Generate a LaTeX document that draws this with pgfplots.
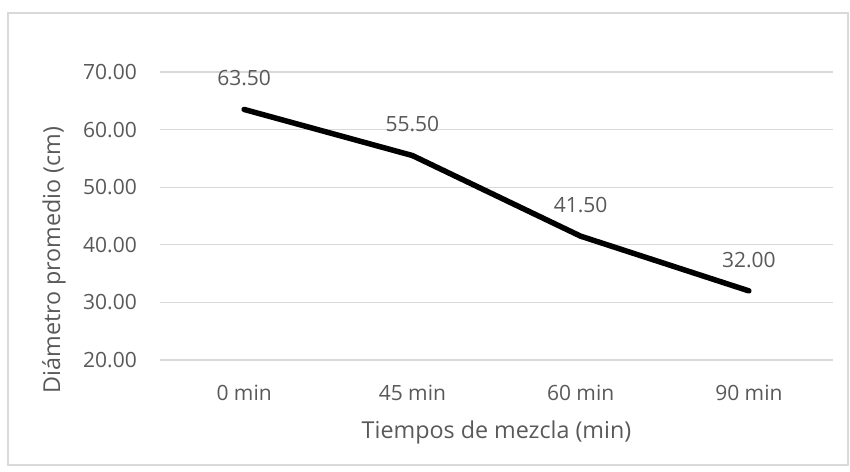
\documentclass[border=0pt]{standalone}
\usepackage{pgfplots}
\pgfplotsset{compat=1.18}
\usepackage{fontspec}
\setmainfont{Open Sans}

\definecolor{txtgray}{HTML}{595959}
\definecolor{gridgray}{HTML}{D9D9D9}

\begin{document}
\begin{tikzpicture}[x=1pt,y=1pt]
\useasboundingbox (-160,-111) rectangle (690,360);
% chart frame
\draw[gridgray, line width=1.3pt] (-152,-105) rectangle (688,347);
\begin{axis}[
  at={(0,0)}, anchor=south west,
  scale only axis,
  width=673pt, height=288pt,
  xmin=-0.5, xmax=3.5,
  ymin=20, ymax=70,
  ytick={20,30,...,70},
  xtick={0,1,2,3},
  xticklabels={0 min,45 min,60 min,90 min},
  axis line style={draw=none},
  major tick length=0pt,
  ymajorgrids,
  grid style={gridgray, line width=1.3pt},
  font=\fontsize{21}{25}\selectfont,
  every tick label/.append style={txtgray},
  /pgf/number format/assume math mode=true,
  yticklabel style={/pgf/number format/.cd, fixed, fixed zerofill, precision=2, /tikz/.cd, anchor=east, inner sep=0pt, xshift=-23pt},
  xticklabel style={anchor=center, inner sep=0pt, yshift=-33pt},
  clip=false,
  nodes near coords,
  point meta=explicit symbolic,
  every node near coord/.append style={anchor=center, yshift=31pt, txtgray, font=\fontsize{21}{25}\selectfont},
]
\addplot[black, line width=5.5pt, line cap=round, line join=round, mark=none]
  coordinates {(0,63.5)[63.50] (1,55.5)[55.50] (2,41.5)[41.50] (3,32.0)[32.00]};
% axis titles, set a little larger than the tick labels
\node[txtgray, anchor=center, font=\fontsize{23.3}{28}\selectfont] at (axis cs:1.5,7.5) {Tiempos de mezcla (min)};
\node[txtgray, anchor=center, rotate=90, font=\fontsize{23.3}{28}\selectfont] at (axis cs:-1.130,37.36) {Diámetro promedio (cm)};
\end{axis}
\end{tikzpicture}
\end{document}
